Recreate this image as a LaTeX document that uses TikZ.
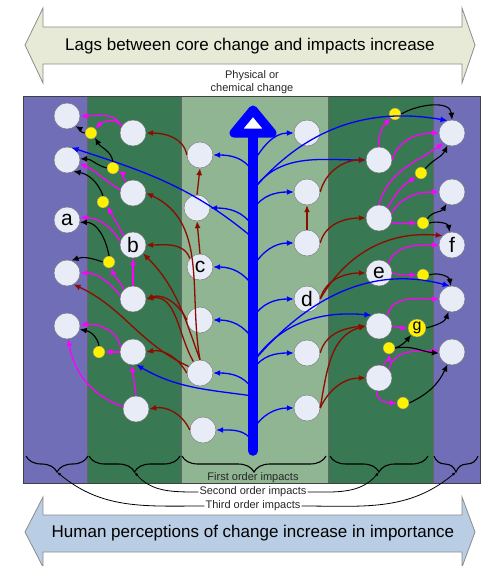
\documentclass[tikz,border=0pt]{standalone}
\usepackage{fontspec}
\setmainfont{Liberation Sans}
\usepackage{tikz}
\usetikzlibrary{arrows.meta, decorations.pathreplacing}
\definecolor{thirdcol}{RGB}{112,110,182}
\definecolor{secondcol}{RGB}{56,120,82}
\definecolor{firstcol}{RGB}{143,181,147}
\definecolor{nodecol}{RGB}{232,236,246}
\definecolor{redline}{RGB}{140,12,0}
\definecolor{pinkline}{RGB}{255,0,255}
\definecolor{lagcol}{RGB}{230,234,214}
\definecolor{humancol}{RGB}{185,205,228}

\begin{document}
\begin{tikzpicture}[x=1pt, y=-1pt,
    imp/.style={circle, draw=black!55, fill=nodecol, minimum size=26pt, inner sep=0pt, font=\fontsize{21}{21}\selectfont},
    yellowdot/.style={circle, draw=black!50, fill=yellow, minimum size=12pt, inner sep=0pt},
    arr/.style={-{Latex[length=7pt,width=6pt]}},
    bluearr/.style={arr, draw=blue, line width=1.3pt},
    redarr/.style={arr, draw=redline, line width=1.3pt},
    pinkarr/.style={arr, draw=pinkline, line width=1.3pt},
    blackarr/.style={arr, draw=black, line width=1.1pt},
    band/.style={draw=black!60, line width=0.6pt},
    widearrow/.style={draw=black!45, line width=0.8pt},
    lbl/.style={font=\fontsize{11}{12.5}\selectfont, text=black!85, inner sep=1pt},
    bracket/.style={decorate, decoration={brace, mirror, amplitude=16pt}, line width=1.1pt},
    bracelink/.style={black, line width=0.8pt, -{Latex[length=4pt,width=3pt]}}
]
    \useasboundingbox (0,0) rectangle (482,566);

    % Lags
    \draw[widearrow, fill=lagcol] (25,45) -- (43,8) -- (43,27) -- (462,27) -- (462,8) -- (475,45)
        -- (462,83) -- (462,64) -- (43,64) -- (43,83) -- cycle;
    \node[font=\fontsize{17}{20}\selectfont] (lags) at (250,46) {Lags between core change and impacts increase};

    % Perceptions
    \draw[widearrow, fill=humancol] (25,532) -- (43,497) -- (43,515) -- (462,515) -- (462,497) -- (475,532)
        -- (462,567) -- (462,552) -- (43,552) -- (43,567) -- cycle;
    \node[font=\fontsize{17}{20}\selectfont] (human) at (253,533) {Human perceptions of change increase in importance};

    % Bands
    \draw[band, fill=thirdcol] (23,96) rectangle (87,483);
    \draw[band, fill=secondcol] (87,96) rectangle (181,483);
    \draw[band, fill=firstcol] (181,96) rectangle (328,483);
    \draw[band, fill=secondcol] (328,96) rectangle (433,483);
    \draw[band, fill=thirdcol] (433,96) rectangle (480,483);
    \draw[black!75, line width=0.8pt] (23,96) rectangle (480,483);
    \node[lbl, align=center] (core) at (252,82) {Physical or\\chemical change};

    % Third order, left
    \node[imp] (ta1) at (67,116) {};
    \node[imp] (ta2) at (67,160) {};
    \node[imp] (ta3) at (67,220) {a};
    \node[imp] (ta4) at (67,273) {};
    \node[imp] (ta5) at (67,326) {};
    % Second order, left
    \node[imp] (sa1) at (133,133) {};
    \node[imp] (sa2) at (133,193) {};
    \node[imp] (sa3) at (133,245) {b};
    \node[imp] (sa4) at (133,299) {};
    \node[imp] (sa5) at (133,352) {};
    \node[imp] (sa6) at (136,409) {};
    % First order, left
    \node[imp] (fa1) at (200,155) {};
    \node[imp] (fa2) at (197,208) {};
    \node[imp] (fa3) at (200,267) {c};
    \node[imp] (fa4) at (200,320) {};
    \node[imp] (fa5) at (200,373) {};
    \node[imp] (fa6) at (203,430) {};
    % First order, right
    \node[imp] (fb1) at (307,133) {};
    \node[imp] (fb2) at (307,192) {};
    \node[imp] (fb3) at (307,243) {};
    \node[imp] (fb4) at (307,299) {d};
    \node[imp] (fb5) at (307,353) {};
    \node[imp] (fb6) at (307,408) {};
    % Second order, right
    \node[imp] (sb1) at (379,160) {};
    \node[imp] (sb2) at (379,218) {};
    \node[imp] (sb3) at (379,273) {e};
    \node[imp] (sb4) at (379,326) {};
    \node[imp] (sb5) at (379,378) {};
    % Third order, right
    \node[imp] (tb1) at (452,133) {};
    \node[imp] (tb2) at (452,192) {};
    \node[imp] (tb3) at (452,245) {f};
    \node[imp] (tb4) at (452,299) {};
    \node[imp] (tb5) at (452,352) {};
    % Yellow steps
    \node[yellowdot] (ya1) at (91,133) {};
    \node[yellowdot] (ya2) at (113,168) {};
    \node[yellowdot] (ya3) at (103,202) {};
    \node[yellowdot] (ya4) at (109,262) {};
    \node[yellowdot] (ya5) at (99,352) {};
    \node[yellowdot] (yb1) at (395,114) {};
    \node[yellowdot] (yb2) at (421,173) {};
    \node[yellowdot] (yb3) at (423,223) {};
    \node[yellowdot] (yb4) at (423,275) {};
    \node[yellowdot, minimum size=18pt, font=\fontsize{16}{16}\selectfont] (yb5) at (417,328) {g};
    \node[yellowdot] (yb6) at (389,348) {};
    \node[yellowdot] (yb7) at (403,403) {};

    % Stem
    \coordinate (base) at (253,451);
    \coordinate (head) at (253,134);
    \foreach \y in {163,172,190,210,227,238,267,287,318,340,362,370,390,396,430,442}
        \coordinate (s\y) at (253,\y);
    \draw[bluearr] (s172) to[out=120, in=0] (fa1.east);
    \draw[bluearr] (s227) to[out=120, in=0] (fa2.east);
    \draw[bluearr] (s287) to[out=120, in=0] (fa3.east);
    \draw[bluearr] (s340) to[out=120, in=0] (fa4.east);
    \draw[bluearr] (s390) to[out=120, in=0] (fa5.east);
    \draw[bluearr] (s442) to[out=120, in=0] (fa6.east);
    \draw[bluearr] (s163) to[out=60, in=180] (fb1.west);
    \draw[bluearr] (s210) to[out=60, in=180] (fb2.west);
    \draw[bluearr] (s267) to[out=60, in=180] (fb3.west);
    \draw[bluearr] (s318) to[out=60, in=180] (fb4.west);
    \draw[bluearr] (s370) to[out=60, in=180] (fb5.west);
    \draw[bluearr] (s430) to[out=60, in=180] (fb6.west);
    \draw[bluearr] (s238) to[out=140, in=-18] (ta2.70);
    \draw[bluearr] (s396) to[out=172, in=-30] (sa5.-75);
    \draw[bluearr] (s190) to[out=55, in=180] (sb1.west);
    \draw[bluearr] (s190) to[out=50, in=170] (tb1.110);
    \draw[bluearr] (s362) to[out=55, in=175] (sb4.125);
    \draw[bluearr] (s362) to[out=50, in=165] (tb4.100);
    \draw[blue, line width=9.5pt, line cap=round] (base) -- (head);
    \draw[blue, line width=9pt, line join=round, fill=white] (253,110) -- (234,133) -- (272,133) -- cycle;

    % First to second order
    \draw[redarr] (fa1.west) to[out=100, in=0] (sa1.east);
    \draw[redarr] (fa2.north) -- (fa1.south);
    \draw[redarr] (fa3.north) -- (fa2.south);
    \draw[redarr] (fa3.140) to[out=110, in=0] (sa3.east);
    \draw[redarr] (fa4.west) to[out=115, in=20] (sa4.east);
    \draw[redarr] (fa5.north) to[out=100, in=-25] (sa2.east);
    \draw[redarr] (fa5.north) to[out=110, in=-45] (sa3.-40);
    \draw[redarr] (fa5.120) to[out=120, in=10] (sa4.east);
    \draw[redarr] (fa5.150) to[out=155, in=-25] (ta4.-60);
    \draw[redarr] (fa5.west) to[out=120, in=10] (sa5.east);
    \draw[redarr] (fa6.west) to[out=115, in=10] (sa6.east);
    \draw[redarr] (fb3.north) -- (fb2.south);
    \draw[redarr] (fb2.east) to[out=75, in=180] (sb1.west);
    \draw[redarr] (fb3.east) to[out=75, in=180] (sb2.west);
    \draw[redarr] (fb4.east) to[out=75, in=180] (sb3.west);
    \draw[redarr] (fb4.east) to[out=60, in=175] (tb3.135);
    \draw[redarr] (fb5.east) to[out=75, in=185] (sb4.west);
    \draw[redarr] (fb6.east) to[out=80, in=195] (sb4.west);
    \draw[redarr] (fb6.east) to[out=65, in=180] (sb5.west);

    % Second to third order
    \draw[pinkarr] (sa1.150) to[out=115, in=0] (ta1.east);
    \draw[pinkarr] (sa1.150) to[out=115, in=45] (ya1.45);
    \draw[pinkarr] (sa2.120) to[out=150, in=-30] (ya2.-30);
    \draw[pinkarr] (sa2.165) to[out=150, in=-25] (ta2.-15);
    \draw[pinkarr] (sa3.135) -- (ya3.-45);
    \draw[pinkarr] (sa3.165) to[out=120, in=0] (ta3.10);
    \draw[pinkarr] (sa4.north) -- (sa3.south);
    \draw[pinkarr] (sa4.135) to[out=110, in=-70] (ya4.-70);
    \draw[pinkarr] (sa4.165) to[out=130, in=0] (ta4.east);
    \draw[pinkarr] (sa5.160) to[out=100, in=5] (ta5.5);
    \draw[pinkarr] (sa5.west) -- (ya5.east);
    \draw[pinkarr] (sa6.north) -- (sa5.-95);
    \draw[pinkarr] (sa6.170) to[out=160, in=-80] (ta5.-85);
    \draw[pinkarr] (sb1.north) to[out=95, in=-135] (yb1.-135);
    \draw[pinkarr] (sb1.east) to[out=75, in=180] (tb1.west);
    \draw[pinkarr] (sb2.north) to[out=75, in=-145] (tb1.-130);
    \draw[pinkarr] (sb2.50) to[out=60, in=-150] (yb2.-140);
    \draw[pinkarr] (sb2.20) to[out=60, in=180] (tb2.west);
    \draw[pinkarr] (sb2.-20) to[out=-10, in=180] (yb3.west);
    \draw[pinkarr] (sb3.45) to[out=70, in=180] (tb3.west);
    \draw[pinkarr] (sb3.east) to[out=-15, in=180] (yb4.west);
    \draw[pinkarr] (sb4.50) to[out=80, in=180] (tb4.west);
    \draw[pinkarr] (sb4.east) to[out=-15, in=180] (yb5.west);
    \draw[pinkarr] (sb5.70) to[out=80, in=-90] (yb6.south);
    \draw[pinkarr] (sb5.40) to[out=80, in=180] (tb5.175);
    \draw[pinkarr] (sb5.-100) to[out=-100, in=180] (yb7.west);

    % Yellow steps to third order
    \draw[blackarr] (ya1.west) to[out=180, in=-30] (ta1.-50);
    \draw[blackarr] (ya2.north) to[out=100, in=-60] (ya1.-50);
    \draw[blackarr] (ya2.west) to[out=165, in=0] (ta2.5);
    \draw[blackarr] (ya3.north) to[out=110, in=-10] (ta2.-60);
    \draw[blackarr] (ya4.north) to[out=100, in=0] (ta3.-10);
    \draw[blackarr] (ya4.west) to[out=160, in=20] (ta4.70);
    \draw[blackarr] (ya5.north) to[out=100, in=-10] (ta5.-15);
    \draw[blackarr] (yb1.east) to[out=30, in=95] (tb1.north);
    \draw[blackarr] (yb2.45) to[out=50, in=-115] (tb1.-110);
    \draw[blackarr] (yb3.45) to[out=55, in=-120] (tb2.-115);
    \draw[blackarr] (yb3.east) to[out=15, in=100] (tb3.100);
    \draw[blackarr] (yb4.east) to[out=20, in=100] (tb4.95);
    \draw[blackarr] (yb5.east) to[out=15, in=-110] (tb4.-105);
    \draw[blackarr] (yb6.east) to[out=20, in=-130] (yb5.-130);
    \draw[blackarr] (yb6.east) to[out=10, in=175] (tb5.185);
    \draw[blackarr] (yb7.east) to[out=25, in=-115] (tb5.-110);

    % Braces
    \draw[bracket] (26,456) -- (88,456);
    \draw[bracket] (89,456) -- (180,456);
    \draw[bracket] (182,456) -- (326,456);
    \draw[bracket] (330,456) -- (428,456);
    \draw[bracket] (434,456) -- (478,456);
    \coordinate (tipL3) at (57,472);
    \coordinate (tipL2) at (134.5,472);
    \coordinate (tipR2) at (379,472);
    \coordinate (tipR3) at (456,472);
    \node[lbl] (firstlbl) at (253,478) {First order impacts};
    \node[lbl] (secondlbl) at (253,492) {Second order impacts};
    \node[lbl] (thirdlbl) at (253,506) {Third order impacts};
    \draw[bracelink] (secondlbl.west) to[out=180, in=-50] (tipL2);
    \draw[bracelink] (secondlbl.east) to[out=0, in=-130] (tipR2);
    \draw[bracelink] (thirdlbl.west) to[out=180, in=-40] (tipL3);
    \draw[bracelink] (thirdlbl.east) to[out=0, in=-140] (tipR3);
\end{tikzpicture}
\end{document}
